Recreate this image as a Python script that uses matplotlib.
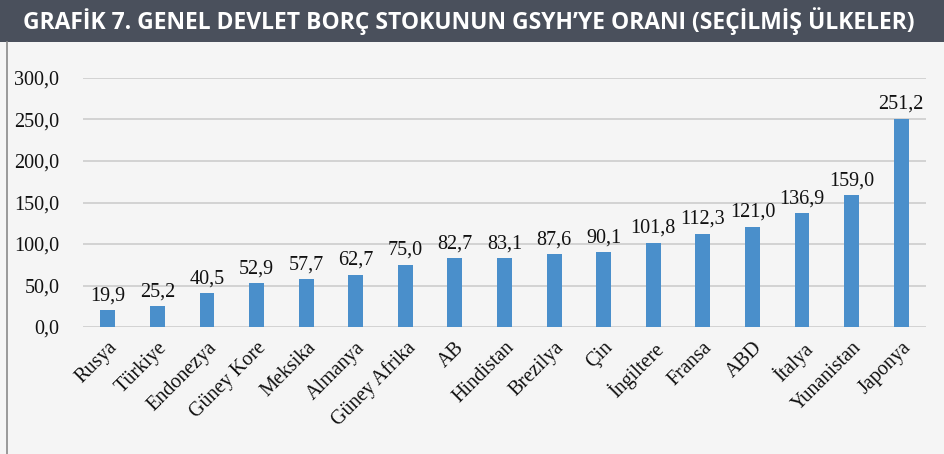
import numpy as np
import matplotlib.pyplot as plt
from matplotlib.patches import Rectangle

# Chart data
countries = ["Rusya", "Türkiye", "Endonezya", "Güney Kore", "Meksika", "Almanya",
             "Güney Afrika", "AB", "Hindistan", "Brezilya", "Çin", "İngiltere",
             "Fransa", "ABD", "İtalya", "Yunanistan", "Japonya"]
debt_ratio = [19.9, 25.2, 40.5, 52.9, 57.7, 62.7, 75.0, 82.7, 83.1, 87.6,
              90.1, 101.8, 112.3, 121.0, 136.9, 159.0, 251.2]
y_ticks = [0, 50, 100, 150, 200, 250, 300]

title = "GRAFİK 7. GENEL DEVLET BORÇ STOKUNUN GSYH’YE ORANI (SEÇİLMİŞ ÜLKELER)"


def tr_fmt(v):
    return f"{v:.1f}".replace(".", ",")


fig = plt.figure(figsize=(9.45, 4.54), dpi=100)
fig.patch.set_facecolor("#f5f5f5")

# title bar and left border
fig.patches.append(Rectangle((0, 1 - 42 / 454), 1, 42 / 454, transform=fig.transFigure,
                             facecolor="#4a505c", edgecolor="none", zorder=0))
fig.add_artist(plt.Line2D([7 / 945, 7 / 945], [0, 1 - 42 / 454], transform=fig.transFigure,
                          color="#8a8a8a", linewidth=1.2))
fig.text(0.496, 1 - 21 / 454, title, color="white", fontsize=16.5, fontweight="bold",
         family="Open Sans", ha="center", va="center")

ax = fig.add_axes([83 / 945, 1 - 327 / 454, (926 - 83) / 945, (327 - 78) / 454])
ax.set_facecolor("#f5f5f5")

x = np.arange(len(countries))
ax.bar(x, debt_ratio, width=0.3, color="#4a8fcb", zorder=3)

for xi, v in zip(x, debt_ratio):
    ax.text(xi, v + 6, tr_fmt(v), ha="center", va="bottom", fontsize=14.5,
            family="Liberation Serif", color="#111111")

ax.set_xlim(-0.5, len(countries) - 0.5)
ax.set_ylim(0, 300)
ax.set_yticks(y_ticks)
ax.set_yticklabels([tr_fmt(t) for t in y_ticks], family="Liberation Serif", fontsize=14.5)
ax.set_xticks(x)
ax.set_xticklabels(countries, rotation=45, ha="right", rotation_mode="anchor",
                   family="Liberation Serif", fontsize=14.5)

ax.grid(axis="y", color="#d0d0d0", linewidth=1.3, zorder=0)
ax.tick_params(axis="both", length=0, colors="#111111")
ax.tick_params(axis="y", pad=17)
ax.tick_params(axis="x", pad=8)
for s in ax.spines.values():
    s.set_visible(False)

fig.savefig("out.png", dpi=100, facecolor=fig.get_facecolor())
